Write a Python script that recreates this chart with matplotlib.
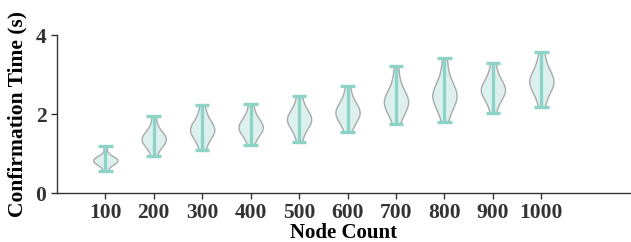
import matplotlib.pyplot as plt

# node counts on the x axis
node_counts = ["100", "200", "300", "400", "500", "600", "700", "800", "900", "1000"]

# confirmation time samples (s)
t_100 = [0.57, 0.72, 0.77, 0.80, 0.82, 0.83, 0.84, 0.86, 0.89, 0.94, 1.19]
t_200 = [0.93, 1.15, 1.25, 1.31, 1.35, 1.37, 1.40, 1.44, 1.52, 1.65, 1.95]
t_300 = [1.09, 1.32, 1.45, 1.53, 1.58, 1.61, 1.65, 1.70, 1.80, 1.95, 2.23]
t_400 = [1.22, 1.42, 1.53, 1.60, 1.65, 1.68, 1.71, 1.76, 1.86, 2.00, 2.26]
t_500 = [1.30, 1.55, 1.70, 1.78, 1.84, 1.87, 1.90, 1.96, 2.06, 2.20, 2.45]
t_600 = [1.54, 1.75, 1.88, 1.96, 2.02, 2.05, 2.09, 2.15, 2.26, 2.42, 2.72]
t_700 = [1.76, 2.00, 2.14, 2.23, 2.29, 2.33, 2.37, 2.44, 2.58, 2.80, 3.21]
t_800 = [1.80, 2.10, 2.28, 2.38, 2.44, 2.48, 2.52, 2.60, 2.76, 3.00, 3.42]
t_900 = [2.04, 2.30, 2.45, 2.53, 2.59, 2.62, 2.66, 2.72, 2.84, 3.00, 3.30]
t_1000 = [2.17, 2.45, 2.63, 2.73, 2.79, 2.83, 2.87, 2.94, 3.08, 3.26, 3.56]

samples = [t_100, t_200, t_300, t_400, t_500, t_600, t_700, t_800, t_900, t_1000]

plt.rcParams['font.family'] = ['Liberation Serif', 'DejaVu Serif']
plt.rcParams['font.weight'] = 'bold'

fig = plt.figure(figsize=(6.31, 2.42), dpi=100)
ax = fig.add_axes([0.090, 0.202, 0.91, 0.653])

teal = '#8dd3c7'
positions = list(range(1, len(samples) + 1))
vp = ax.violinplot(samples, positions=positions, widths=0.5,
                   showextrema=True, showmeans=False, showmedians=False)

for body in vp['bodies']:
    body.set_alpha(None)
    body.set_facecolor((0.553, 0.827, 0.780, 0.3))
    body.set_edgecolor('#aaaaaa')
    body.set_linewidth(1.0)
for part in ['cbars', 'cmins', 'cmaxes']:
    vp[part].set_color(teal)
    vp[part].set_linewidth(2.4)

# widen the whisker caps a bit
for part in ['cmins', 'cmaxes']:
    segs = vp[part].get_segments()
    for s in segs:
        mid = (s[0][0] + s[1][0]) / 2
        s[0][0] = mid - 0.15
        s[1][0] = mid + 0.15
    vp[part].set_segments(segs)

ax.set_xlim(0, 11.85)
ax.set_ylim(0, 4)
ax.set_xticks(positions)
ax.set_xticklabels(node_counts)
ax.set_yticks([0, 2, 4])

ax.spines['top'].set_visible(False)
ax.spines['right'].set_visible(False)
for sp in ['left', 'bottom']:
    ax.spines[sp].set_color('#333333')
    ax.spines[sp].set_linewidth(1.0)

ax.tick_params(axis='both', labelsize=15.5, colors='#333333', length=4, width=1)
ax.tick_params(axis='x', pad=3)
for lbl in ax.get_xticklabels() + ax.get_yticklabels():
    lbl.set_fontweight('bold')

ax.set_xlabel('Node Count', fontsize=15, fontweight='bold', labelpad=0)
ax.set_ylabel('Confirmation Time (s)', fontsize=15.5, fontweight='bold', labelpad=6)

fig.savefig('out.png', dpi=100)
